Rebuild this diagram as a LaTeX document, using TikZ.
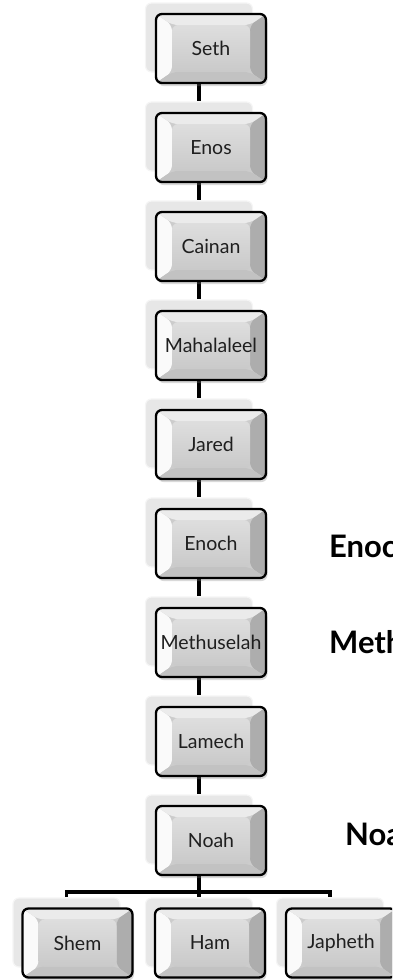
\documentclass[tikz,border=0pt]{standalone}
\usepackage{fontspec}
\setmainfont{Lato}
\newfontfamily\cardfont{Lato}
\usetikzlibrary{shadows,backgrounds}

\tikzset{
  card/.style={rectangle, rounded corners=6pt, minimum height=69pt, inner sep=0pt},
  backcard/.style={card, minimum width=107pt, fill=black!11, draw=black!4, line width=1.2pt, fill opacity=0.85},
  frontcard/.style={card, minimum width=110pt, draw=black, line width=2.3pt, fill=black!20,
    text=black!88, font=\cardfont\fontsize{19.5}{22}\selectfont,
    drop shadow={shadow xshift=1.5pt, shadow yshift=-3pt, opacity=0.3},
    path picture={
      \fill[black!2] (path picture bounding box.south west) -- (path picture bounding box.north west)
        -- ([xshift=16pt,yshift=-11pt]path picture bounding box.north west)
        -- ([xshift=16pt,yshift=11pt]path picture bounding box.south west) -- cycle;
      \fill[black!32] (path picture bounding box.south east) -- (path picture bounding box.north east)
        -- ([xshift=-16pt,yshift=-11pt]path picture bounding box.north east)
        -- ([xshift=-16pt,yshift=11pt]path picture bounding box.south east) -- cycle;
      \fill[black!8] (path picture bounding box.north west) -- (path picture bounding box.north east)
        -- ([xshift=-16pt,yshift=-11pt]path picture bounding box.north east)
        -- ([xshift=16pt,yshift=-11pt]path picture bounding box.north west) -- cycle;
      \fill[black!24] (path picture bounding box.south west) -- (path picture bounding box.south east)
        -- ([xshift=-16pt,yshift=11pt]path picture bounding box.south east)
        -- ([xshift=16pt,yshift=11pt]path picture bounding box.south west) -- cycle;
      \shade[top color=black!13, bottom color=black!21]
        ([xshift=16pt,yshift=-11pt]path picture bounding box.north west)
        rectangle ([xshift=-16pt,yshift=11pt]path picture bounding box.south east);
    }},
  link/.style={line width=3.6pt, black},
  headline/.style={anchor=base west, inner sep=0pt, font=\bfseries\fontsize{31}{34}\selectfont},
}

\begin{document}
\begin{tikzpicture}[x=1pt, y=-1pt]
  \useasboundingbox (0,0) rectangle (392,980);
  \clip (0,0) rectangle (392,980);

  % the line of descent
  \foreach \name/\txt [count=\k from 0] in {seth/Seth, enos/Enos, cainan/Cainan,
      mahalaleel/Mahalaleel, jared/Jared, enoch/Enoch, methuselah/Methuselah,
      lamech/Lamech, noah/Noah} {
    \node[backcard] (\name-s) at (199, {37.5+99*\k}) {};
    \node[frontcard] (\name) at (211, {48.5+99*\k}) {\txt};
  }

  % sons of Noah
  \foreach \name/\txt/\x in {shem/Shem/66.5, ham/Ham/199, japheth/Japheth/330} {
    \node[backcard] (\name-s) at (\x, 932.5) {};
    \node[frontcard] (\name) at ({\x+11}, 943) {\txt};
  }

  \coordinate (fork) at (199, 892);

  \begin{pgfonlayer}{background}
    \foreach \a/\b in {seth/enos, enos/cainan, cainan/mahalaleel, mahalaleel/jared,
        jared/enoch, enoch/methuselah, methuselah/lamech, lamech/noah}
      \draw[link] (\a-s) -- (\b-s);
    \draw[link] (noah-s) -- (fork);
    \draw[link] (shem-s) |- (fork) -| (japheth-s);
    \draw[link] (fork) -- (ham-s);
  \end{pgfonlayer}

  % side notes
  \node[headline] (enoch-note) at (329, 557) {Enoch};
  \node[headline] (methuselah-note) at (329, 653) {Methuselah};
  \node[headline] (noah-note) at (345, 845) {Noah};
\end{tikzpicture}
\end{document}
